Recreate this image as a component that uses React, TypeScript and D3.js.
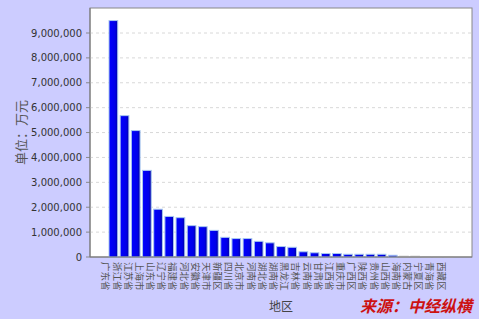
import React from "react";
import * as d3 from "d3";

const regions = [
  "广东省", "浙江省", "江苏省", "上海市", "山东省", "辽宁省", "福建省", "河北省",
  "安徽省", "天津市", "新疆区", "四川省", "北京市", "河南省", "湖北省", "湖南省",
  "黑龙江", "吉林省", "云南省", "甘肃省", "江西省", "重庆市", "广西区", "陕西省",
  "贵州省", "山西省", "海南省", "内蒙古", "宁夏区", "青海省", "西藏区",
];
const values = [
  9500000, 5680000, 5080000, 3480000, 1920000, 1630000, 1580000, 1260000,
  1220000, 1070000, 790000, 740000, 740000, 630000, 570000, 420000,
  390000, 210000, 170000, 140000, 140000, 110000, 110000, 110000,
  110000, 70000, 30000, 30000, 5000, 2000, 1000,
];
const yTicks = [0, 1000000, 2000000, 3000000, 4000000, 5000000, 6000000, 7000000, 8000000, 9000000];

const W = 479, H = 319;
const plot = { left: 90, right: 472, top: 8, bottom: 257 };

export default function App() {
  const x = d3.scaleBand<string>().domain(regions).range([109, 453]).paddingInner(0.22);
  const y = d3.scaleLinear().domain([0, 9000000]).range([plot.bottom, 33]);
  const fmt = d3.format(",");
  return (
    <svg width={W} height={H} style={{ position: "absolute", left: 0, top: 0, display: "block" }}>
      <defs>
        <linearGradient id="barg" x1="0" x2="1" y1="0" y2="0">
          <stop offset="0%" stopColor="#0000ff" />
          <stop offset="70%" stopColor="#0000e8" />
          <stop offset="100%" stopColor="#0000a0" />
        </linearGradient>
      </defs>
      <rect x={0} y={0} width={W} height={H} fill="#ccccff" />
      <rect x={plot.left} y={plot.top} width={plot.right - plot.left} height={plot.bottom - plot.top} fill="#ffffff" stroke="#888" strokeWidth={1} />
      {yTicks.map((t) => (
        <g key={t}>
          {t > 0 && (
            <line x1={plot.left} x2={plot.right} y1={y(t)} y2={y(t)} stroke="#d8d8d8" strokeDasharray="3,3" />
          )}
          <line x1={plot.left - 4} x2={plot.left} y1={y(t)} y2={y(t)} stroke="#888" />
          <text x={82} y={y(t)} dy="0.35em" textAnchor="end" fontFamily="DejaVu Sans" fontSize={10} fill="#333">
            {fmt(t)}
          </text>
        </g>
      ))}
      {regions.map((r, i) => {
        const v = values[i];
        const bx = x(r)!;
        const bw = x.bandwidth();
        const top = y(v);
        return (
          <rect key={r} x={bx} y={top} width={bw} height={Math.max(0, plot.bottom - top)}
            fill={v < 50000 ? "#c8c8d0" : "url(#barg)"} stroke={v < 50000 ? "#bbb" : "#a8c8f0"} strokeWidth={1} />
        );
      })}
      <line x1={plot.left} x2={plot.left} y1={plot.top} y2={plot.bottom} stroke="#777" />
      <line x1={plot.left} x2={plot.right} y1={plot.bottom} y2={plot.bottom} stroke="#777" />
      {regions.map((r) => {
        const cx = x(r)! + x.bandwidth() / 2 - 7;
        return (
          <text key={r} transform={`translate(${cx},262) rotate(90)`} dominantBaseline="central"
            fontFamily="Noto Sans CJK SC" fontSize={9.5} fill="#555">
            {r}
          </text>
        );
      })}
      <text transform={`translate(20,${(plot.top + plot.bottom) / 2}) rotate(-90)`} textAnchor="middle"
        dominantBaseline="central" fontFamily="Noto Sans CJK SC" fontSize={13} fill="#555">
        单位：万元
      </text>
      <text x={(plot.left + plot.right) / 2} y={311} textAnchor="middle" fontFamily="Noto Sans CJK SC" fontSize={12} fill="#444">
        地区
      </text>
      <text x={472} y={312} textAnchor="end" fontFamily="Noto Sans CJK SC" fontWeight="bold" fontStyle="italic" fontSize={16} fill="#cc1111">
        来源：中经纵横
      </text>
    </svg>
  );
}
